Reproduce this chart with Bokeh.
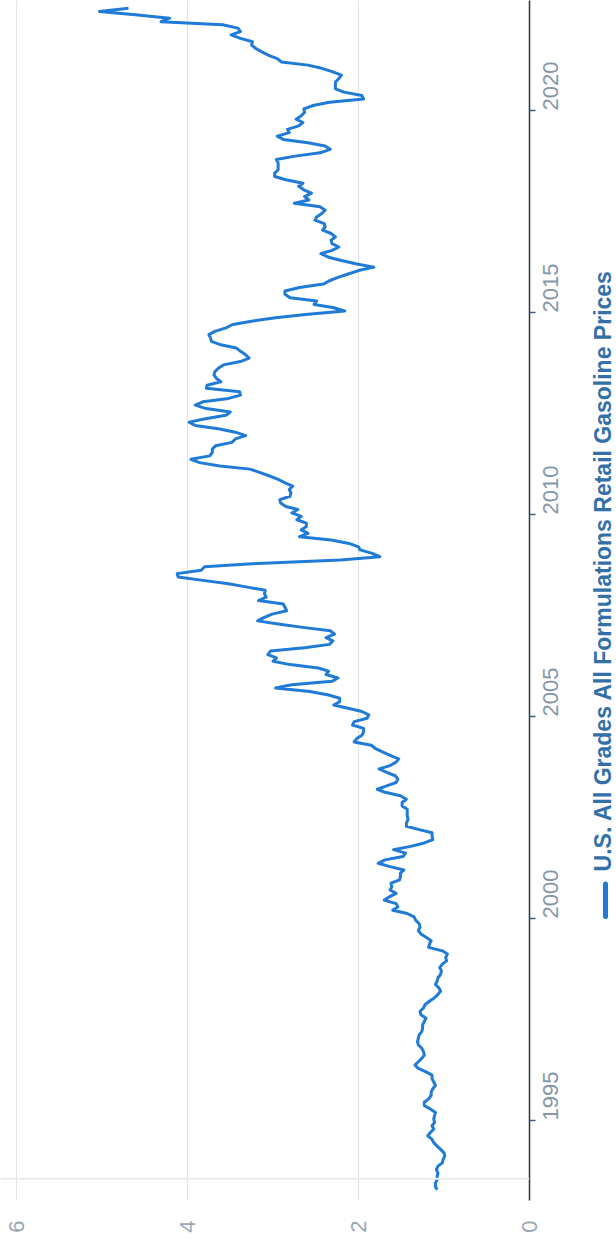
from math import pi
import pandas as pd
from bokeh.plotting import figure
from bokeh.layouts import row
from bokeh.models import Range1d, FixedTicker, Span
from bokeh.core.properties import value
from bokeh.embed import file_html
from bokeh.resources import INLINE

series_name = "U.S. All Grades All Formulations Retail Gasoline Prices"
first_month = "1993-04-01"
# monthly average retail price, $/gal (Apr 1993 .. Jul 2022)
prices = [
    1.08, 1.10, 1.10, 1.08, 1.08, 1.07, 1.09, 1.07, 1.02,                     # 1993
    1.01, 0.99, 1.00, 1.04, 1.08, 1.12, 1.14, 1.19, 1.16, 1.12, 1.14, 1.11,   # 1994
    1.12, 1.11, 1.10, 1.16, 1.23, 1.23, 1.18, 1.15, 1.15, 1.13, 1.10, 1.12,   # 1995
    1.14, 1.14, 1.21, 1.30, 1.34, 1.30, 1.26, 1.23, 1.24, 1.26, 1.30, 1.31,   # 1996
    1.30, 1.29, 1.26, 1.25, 1.25, 1.23, 1.21, 1.27, 1.28, 1.24, 1.22, 1.17,   # 1997
    1.11, 1.07, 1.04, 1.06, 1.10, 1.08, 1.07, 1.04, 1.03, 1.05, 1.02, 0.97,   # 1998
    0.98, 0.96, 1.02, 1.18, 1.17, 1.15, 1.21, 1.27, 1.30, 1.28, 1.29, 1.33,   # 1999
    1.35, 1.43, 1.60, 1.54, 1.56, 1.70, 1.64, 1.56, 1.63, 1.61, 1.62, 1.52,   # 2000
    1.51, 1.51, 1.47, 1.63, 1.77, 1.69, 1.48, 1.45, 1.59, 1.39, 1.23, 1.13,   # 2001
    1.14, 1.14, 1.29, 1.44, 1.44, 1.42, 1.43, 1.43, 1.43, 1.49, 1.49, 1.44,   # 2002
    1.51, 1.69, 1.78, 1.67, 1.56, 1.54, 1.57, 1.67, 1.76, 1.63, 1.56, 1.53,   # 2003
    1.63, 1.72, 1.80, 1.85, 2.05, 2.02, 1.96, 1.94, 1.94, 2.07, 2.05, 1.90,   # 2004
    1.88, 1.96, 2.11, 2.29, 2.22, 2.22, 2.35, 2.57, 2.97, 2.78, 2.31, 2.24,   # 2005
    2.38, 2.35, 2.47, 2.80, 3.00, 2.96, 3.06, 3.03, 2.63, 2.34, 2.30, 2.38,   # 2006
    2.28, 2.33, 2.63, 2.92, 3.18, 3.10, 3.01, 2.84, 2.86, 2.88, 3.17, 3.08,   # 2007
    3.10, 3.09, 3.30, 3.52, 3.82, 4.11, 4.12, 3.84, 3.80, 3.18, 2.21, 1.75,   # 2008
    1.84, 1.98, 2.00, 2.11, 2.32, 2.69, 2.59, 2.67, 2.61, 2.61, 2.72, 2.67,   # 2009
    2.78, 2.71, 2.85, 2.91, 2.92, 2.80, 2.79, 2.81, 2.77, 2.86, 2.94, 3.04,   # 2010
    3.15, 3.27, 3.62, 3.86, 3.96, 3.74, 3.71, 3.71, 3.67, 3.48, 3.44, 3.32,   # 2011
    3.44, 3.64, 3.91, 3.98, 3.79, 3.55, 3.50, 3.78, 3.91, 3.82, 3.52, 3.38,   # 2012
    3.39, 3.78, 3.77, 3.61, 3.66, 3.69, 3.68, 3.64, 3.58, 3.38, 3.28, 3.32,   # 2013
    3.38, 3.43, 3.61, 3.72, 3.73, 3.75, 3.68, 3.55, 3.47, 3.25, 2.97, 2.62,   # 2014
    2.16, 2.30, 2.52, 2.49, 2.80, 2.86, 2.86, 2.69, 2.41, 2.34, 2.24, 2.12,   # 2015
    2.00, 1.82, 2.02, 2.20, 2.35, 2.44, 2.31, 2.23, 2.31, 2.32, 2.27, 2.32,   # 2016
    2.42, 2.39, 2.40, 2.51, 2.49, 2.43, 2.39, 2.45, 2.75, 2.58, 2.63, 2.55,   # 2017
    2.64, 2.70, 2.65, 2.85, 2.98, 2.98, 2.94, 2.94, 2.94, 2.96, 2.74, 2.45,   # 2018
    2.33, 2.39, 2.59, 2.88, 2.95, 2.81, 2.83, 2.70, 2.65, 2.73, 2.67, 2.63,   # 2019
    2.64, 2.53, 2.34, 1.94, 1.96, 2.17, 2.27, 2.27, 2.27, 2.23, 2.20, 2.30,   # 2020
    2.42, 2.59, 2.90, 2.95, 3.05, 3.13, 3.20, 3.25, 3.24, 3.38, 3.49, 3.38,   # 2021
    3.41, 3.59, 4.31, 4.21, 4.58, 5.03, 4.69,                                 # 2022
]
year_ticks = [1995, 2000, 2005, 2010, 2015, 2020]
value_ticks = [0, 2, 4, 6]

dates = pd.date_range(first_month, periods=len(prices), freq="MS") + pd.Timedelta(days=14)
dec_year = list(dates.year + (dates.dayofyear - 1) / 365.25)

LINE_BLUE = "#1f7bd6"

# ---------------- main chart (rotated: values run right-to-left, years bottom-to-top)
p = figure(width=590, height=1247,
           x_range=Range1d(6.187, 0), y_range=Range1d(1993.02, 2022.723),
           y_axis_location="right", x_axis_location="below",
           output_backend="svg", toolbar_location=None,
           min_border_left=0, min_border_right=61,
           min_border_top=0, min_border_bottom=47)
p.outline_line_color = None
p.background_fill_color = "white"

p.add_layout(Span(location=1993.56, dimension="width",
                  line_color="#ececec", line_width=2))

p.line(x=prices, y=dec_year, line_color=LINE_BLUE, line_width=3,
       line_join="round")

xa = p.xaxis[0]
xa.ticker = FixedTicker(ticks=value_ticks)
xa.axis_line_color = None
xa.major_tick_line_color = None
xa.minor_tick_line_color = None
xa.major_label_orientation = pi / 2
xa.major_label_standoff = 14
xa.major_label_text_font = "Liberation Sans"
xa.major_label_text_font_size = "22px"
xa.major_label_text_color = "#98a6b3"

ya = p.yaxis[0]
ya.ticker = FixedTicker(ticks=year_ticks)
ya.axis_line_color = "#333333"
ya.axis_line_width = 1.5
ya.major_tick_in = 0
ya.major_tick_out = 6
ya.major_tick_line_color = "#3d5f80"
ya.major_tick_line_width = 1.5
ya.minor_tick_line_color = None
ya.major_label_orientation = pi / 2
ya.major_label_standoff = 15
ya.major_label_text_font = "Liberation Sans"
ya.major_label_text_font_size = "22px"
ya.major_label_text_color = "#8397a8"

p.xgrid.grid_line_color = "#e4e4e4"
p.xgrid.grid_line_width = 1.2
p.ygrid.visible = False

# ---------------- legend strip (rotated legend item)
lg = figure(width=26, height=1247, x_range=Range1d(0, 26), y_range=Range1d(0, 1247),
            output_backend="svg", toolbar_location=None,
            min_border=0, min_border_left=0, min_border_right=0,
            min_border_top=0, min_border_bottom=0)
lg.axis.visible = False
lg.grid.visible = False
lg.outline_line_color = None
lg.segment(x0=[15], y0=[295], x1=[15], y1=[329], line_color=LINE_BLUE,
           line_width=5, line_cap="round")
lg.text(x=[12.5], y=[342], text=[series_name], angle=pi / 2,
        text_align="left", text_baseline="middle",
        text_font=value("Liberation Sans"), text_font_style="bold",
        text_font_size="23px", text_color="#3470a8")

open("out.html", "w").write(file_html(row(p, lg), INLINE))
